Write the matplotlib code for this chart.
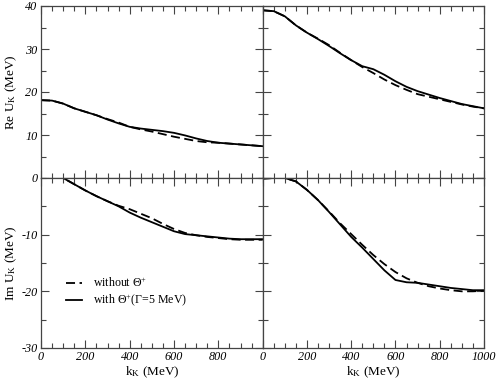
import numpy as np
import matplotlib
matplotlib.use('Agg')
import matplotlib.pyplot as plt
from matplotlib.ticker import MultipleLocator, FixedLocator

plt.rcParams['font.family'] = ['Liberation Serif', 'DejaVu Serif']
plt.rcParams['font.style'] = 'italic'
plt.rcParams['axes.unicode_minus'] = False
plt.rcParams['mathtext.fontset'] = 'custom'
plt.rcParams['mathtext.rm'] = 'Liberation Serif:style=normal'
plt.rcParams['mathtext.it'] = 'Liberation Serif:style=italic'

K = [0, 50, 100, 150, 200, 250, 300, 350, 400, 450, 500,
     550, 600, 650, 700, 750, 800, 850, 900, 950, 1000]

# Re U_K, left panel
RE_L_WITH = [18.1, 18.0, 17.3, 16.2, 15.4, 14.6, 13.6, 12.7, 11.9, 11.5, 11.2,
             10.9, 10.5, 9.9, 9.2, 8.6, 8.2, 8.0, 7.8, 7.6, 7.4]
RE_L_WITHOUT = [18.1, 18.0, 17.3, 16.2, 15.4, 14.6, 13.7, 12.9, 11.9, 11.3, 10.8,
                10.2, 9.6, 9.1, 8.6, 8.3, 8.2, 8.0, 7.8, 7.6, 7.4]
# Re U_K, right panel
RE_R_WITH = [39.0, 38.8, 37.6, 35.5, 33.8, 32.3, 30.7, 29.0, 27.4, 26.0, 25.3,
             24.0, 22.5, 21.2, 20.2, 19.4, 18.6, 17.9, 17.2, 16.7, 16.2]
RE_R_WITHOUT = [39.0, 38.8, 37.6, 35.5, 33.8, 32.4, 30.9, 29.1, 27.4, 25.8, 24.4,
                22.9, 21.6, 20.5, 19.5, 18.9, 18.3, 17.7, 17.1, 16.6, 16.2]
# Im U_K, left panel
IM_L_WITH = [0.0, 0.0, 0.0, -1.1, -2.2, -3.2, -4.1, -5.0, -6.1, -7.0, -7.8,
             -8.6, -9.4, -9.9, -10.1, -10.3, -10.5, -10.7, -10.8, -10.8, -10.8]
IM_L_WITHOUT = [0.0, 0.0, 0.0, -1.1, -2.2, -3.2, -4.1, -4.9, -5.5, -6.3, -7.1,
                -8.1, -9.0, -9.7, -10.1, -10.4, -10.6, -10.8, -10.9, -10.9, -10.9]
# Im U_K, right panel
IM_R_WITH = [-0.1, 0.0, 0.0, -0.6, -2.1, -3.9, -6.0, -8.2, -10.4, -12.3, -14.3,
             -16.3, -18.0, -18.4, -18.5, -18.8, -19.1, -19.4, -19.6, -19.8, -19.8]
IM_R_WITHOUT = [-0.1, 0.0, 0.0, -0.6, -2.1, -3.9, -5.9, -8.0, -9.9, -11.8, -13.6,
                -15.2, -16.6, -17.7, -18.5, -19.1, -19.5, -19.8, -20.0, -20.0, -19.9]

fig = plt.figure(figsize=(4.98, 3.82), dpi=100)
W, H = 498, 382


def add_ax(x0, x1, y0, y1):
    return fig.add_axes([x0 / W, 1 - y1 / H, (x1 - x0) / W, (y1 - y0) / H])


ax_tl = add_ax(41, 262.7, 6, 178)
ax_tr = add_ax(262.7, 484, 6, 178)
ax_bl = add_ax(41, 262.7, 178, 348)
ax_br = add_ax(262.7, 484, 178, 348)

panels = [
    (ax_tl, RE_L_WITHOUT, RE_L_WITH, (0, 40)),
    (ax_tr, RE_R_WITHOUT, RE_R_WITH, (0, 40)),
    (ax_bl, IM_L_WITHOUT, IM_L_WITH, (-30, 0)),
    (ax_br, IM_R_WITHOUT, IM_R_WITH, (-30, 0)),
]

for ax, wo, w, ylim in panels:
    ax.plot(K, wo, color='black', lw=1.3, ls=(0, (5, 2.5)),
            label=r'without $\Theta^{+}$')
    ax.plot(K, w, color='black', lw=1.3,
            label=r'with $\Theta^{+}$($\Gamma$=5 MeV)')
    ax.set_xlim(0, 1000)
    ax.set_ylim(*ylim)
    ax.xaxis.set_major_locator(MultipleLocator(200))
    ax.xaxis.set_minor_locator(MultipleLocator(50))
    ax.yaxis.set_major_locator(MultipleLocator(10))
    ax.yaxis.set_minor_locator(MultipleLocator(5))
    ax.tick_params(which='both', direction='in', top=True, right=True,
                   color='#444444', width=0.8, labelsize=8.7)
    ax.tick_params(which='major', length=6, pad=2.5)
    ax.tick_params(which='minor', length=3.5)
    for sp in ax.spines.values():
        sp.set_color('#444444')
        sp.set_linewidth(0.9)

for ax in (ax_tl, ax_tr):
    ax.tick_params(labelbottom=False)
for ax in (ax_tr, ax_br):
    ax.tick_params(labelleft=False)

ax_bl.xaxis.set_major_locator(FixedLocator([0, 200, 400, 600, 800]))
ax_bl.xaxis.set_minor_locator(MultipleLocator(50))
ax_bl.yaxis.set_major_locator(FixedLocator([-30, -20, -10]))
ax_bl.yaxis.set_minor_locator(MultipleLocator(5))

ax_tl.set_ylabel(r'Re U$_\mathrm{K}$ (MeV)', fontsize=9.5, fontstyle='normal')
ax_bl.set_ylabel(r'Im U$_\mathrm{K}$ (MeV)', fontsize=9.5, fontstyle='normal')
ax_tl.yaxis.set_label_coords(-0.097, 0.5)
ax_bl.yaxis.set_label_coords(-0.097, 0.5)
ax_bl.set_xlabel(r'k$_\mathrm{K}$ (MeV)', fontsize=9.5, fontstyle='normal')
ax_br.set_xlabel(r'k$_\mathrm{K}$ (MeV)', fontsize=9.5, fontstyle='normal')
ax_bl.xaxis.set_label_coords(0.5, -0.095)
ax_br.xaxis.set_label_coords(0.5, -0.095)

ax_bl.legend(loc='upper left', bbox_to_anchor=(0.065, 0.485), frameon=False,
             prop={'family': 'Liberation Serif', 'style': 'normal', 'size': 8.6},
             handlelength=1.35, handletextpad=0.9, labelspacing=0.2)

fig.savefig('out.png', dpi=100)
